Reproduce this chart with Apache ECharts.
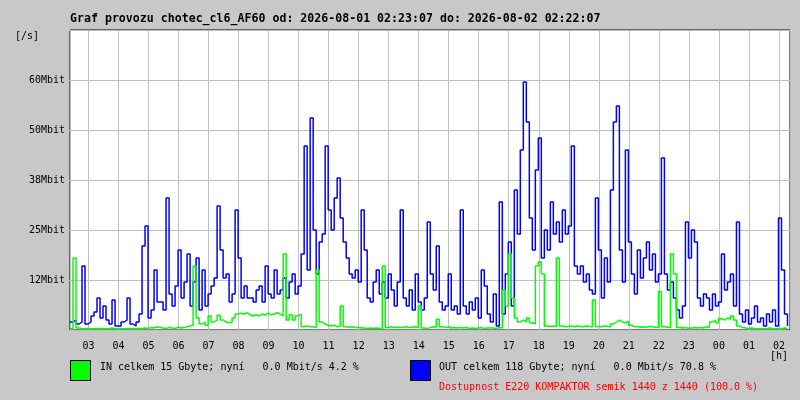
<!DOCTYPE html>
<html>
<head>
<meta charset="utf-8">
<script src="https://cdn.jsdelivr.net/npm/echarts@6/dist/echarts.min.js"></script>
<style>
html, body { margin: 0; padding: 0; background: #c8c8c8; }
#main { width: 800px; height: 400px; }
</style>
</head>
<body>
<div id="main"></div>
<script>
// vzorky po 6 minutach od 02:23:07, hodnoty v Mbit/s
const outMbit = [
  2, 2.5, 1.5, 2, 16, 1.5, 2, 3.5, 4.5, 8,
  3, 6, 2.5, 1.5, 7.5, 1, 1, 2, 2.5, 8,
  1.5, 1, 2, 4, 21, 26, 3, 5, 15, 7,
  7, 5, 33, 9, 6, 11, 20, 8, 12, 19,
  6, 12, 18, 5, 15, 6, 9, 11, 13, 31,
  20, 13, 14, 7, 9, 30, 18, 8, 11, 8,
  8, 7, 10, 11, 7, 16, 9, 8, 15, 9,
  10, 13, 8, 12, 14, 9, 11, 19, 46, 15,
  53, 25, 14, 22, 24, 46, 30, 25, 33, 38,
  28, 22, 18, 14, 13, 15, 12, 30, 20, 8,
  7, 12, 15, 9, 12, 8, 14, 10, 6, 12,
  30, 8, 6, 10, 5, 14, 7, 5, 8, 27,
  14, 10, 21, 7, 5, 6, 14, 5, 6, 4,
  30, 6, 4, 7, 5, 8, 3, 15, 11, 4,
  2, 9, 1, 32, 4, 14, 22, 6, 35, 24,
  45, 62, 52, 28, 20, 40, 48, 18, 25, 20,
  32, 24, 27, 22, 30, 24, 26, 46, 16, 14,
  16, 12, 14, 10, 9, 33, 20, 8, 18, 12,
  35, 52, 56, 20, 12, 45, 22, 14, 9, 20,
  13, 18, 22, 15, 19, 12, 14, 43, 14, 10,
  12, 8, 5, 3, 6, 27, 18, 25, 22, 8,
  6, 9, 8, 5, 9, 6, 7, 19, 10, 12,
  14, 6, 27, 4, 2, 5, 1.5, 3, 6, 2,
  3, 1, 4, 2, 5, 1, 28, 15, 4, 1
];
const inMbit = [
  0.3, 18, 0.5, 0.3, 0.3, 0.4, 0.3, 0.3, 0.4, 0.3,
  0.4, 0.3, 0.3, 0.5, 0.3, 0.3, 0.4, 0.3, 0.3, 0.4,
  0.3, 0.3, 0.4, 0.3, 0.5, 0.4, 0.6, 0.5, 0.8, 0.6,
  0.5, 0.4, 0.6, 0.5, 0.4, 0.7, 0.5, 0.6, 0.8, 1.0,
  1.2, 16, 3, 1.5, 2, 1.2, 3.5, 2, 2.5, 3.7,
  2.5, 2, 1.8, 2, 3, 4, 4.2, 4, 4.3, 3.8,
  3.5, 3.8, 3.5, 4, 3.7, 4.2, 3.8, 4, 4.3, 4,
  3.5, 19, 2.5, 3.8, 2.5, 3.5, 4, 0.8, 1, 0.8,
  0.8, 0.6, 15, 2, 1.5, 1.2, 1, 1.2, 0.8, 1,
  6, 0.8, 0.7, 0.8, 0.6, 0.7, 0.5, 0.5, 0.4, 0.5,
  0.4, 0.5, 0.4, 0.4, 16, 0.6, 0.8, 0.6, 0.7, 0.6,
  0.7, 0.8, 0.6, 0.7, 0.8, 0.6, 6, 0.5, 0.4, 0.6,
  0.8, 0.7, 2.7, 0.8, 0.6, 0.8, 0.5, 0.6, 0.5, 0.6,
  0.5, 0.6, 0.4, 0.5, 0.4, 0.5, 0.6, 0.4, 0.5, 0.5,
  0.5, 0.4, 0.6, 0.5, 10, 6, 19, 8, 3, 2,
  2.5, 2, 3, 1.8, 1.5, 16, 17, 14, 1, 0.9,
  1, 0.9, 18, 1, 0.8, 0.9, 1, 0.8, 1, 0.9,
  0.8, 1, 0.9, 0.8, 7.5, 0.9, 0.8, 1, 0.9, 0.8,
  1.5, 2, 2.5, 2, 1.8, 2.2, 1.2, 0.8, 0.9, 0.7,
  0.8, 0.7, 0.9, 0.8, 0.7, 0.6, 9.6, 0.8, 0.7, 0.6,
  19, 14, 0.6, 0.5, 0.6, 0.4, 0.5, 0.6, 0.5, 0.6,
  0.5, 0.8, 0.6, 2, 2.5, 1.8, 2.8, 2.5, 3, 2.7,
  3.5, 2.5, 1, 0.6, 0.5, 0.4, 0.5, 0.4, 0.3, 0.4,
  0.4, 0.3, 0.5, 0.4, 0.3, 0.4, 0.3, 0.5, 0.4, 0.3
];
const yTickValues = [12.5, 25, 37.5, 50, 62.5];
const yTickLabels = ['12Mbit', '25Mbit', '38Mbit', '50Mbit', '60Mbit'];

const titleText = 'Graf provozu chotec_cl6_AF60 od: 2026-08-01 02:23:07 do: 2026-08-02 02:22:07';
const inText = 'IN celkem 15 Gbyte; nyní   0.0 Mbit/s 4.2 %';
const outText = 'OUT celkem 118 Gbyte; nyní   0.0 Mbit/s 70.8 %';
const availText = 'Dostupnost E220 KOMPAKTOR semik 1440 z 1440 (100.0 %)';

const startTime = new Date(2026, 7, 1, 2, 23, 7).getTime();
const endTime = new Date(2026, 7, 2, 2, 22, 7).getTime();
const stepMs = 6 * 60 * 1000;

const font = 'DejaVu Sans Mono';

function toPairs(arr) {
  let res = [];
  for (let i = 0; i < arr.length; i++) {
    res.push([startTime + i * stepMs, arr[i]]);
  }
  return res;
}

function txt(text, left, top, size, color, bold) {
  return {
    text: text,
    left: left,
    top: top,
    padding: 0,
    textStyle: {
      fontFamily: font,
      fontSize: size,
      fontWeight: bold ? 'bold' : 'normal',
      color: color
    }
  };
}

const chart = echarts.init(document.getElementById('main'));

const option = {
  backgroundColor: '#c8c8c8',
  animation: false,
  title: [
    txt(titleText, 70, 13, 11.6, '#000', true),
    txt('[/s]', 15, 31, 10, '#000', false),
    txt('[h]', 770, 351, 10, '#000', false),
    txt(inText, 100, 362, 10, '#000', false),
    txt(outText, 439, 362, 10, '#000', false),
    txt(availText, 439, 382, 10, '#ff0000', false)
  ],
  graphic: [
    { type: 'rect', shape: { x: 70.5, y: 360.5, width: 20, height: 20 },
      style: { fill: '#00ff00', stroke: '#000', lineWidth: 1 } },
    { type: 'rect', shape: { x: 410.5, y: 360.5, width: 20, height: 20 },
      style: { fill: '#0000ff', stroke: '#000', lineWidth: 1 } }
  ],
  grid: {
    left: 70,
    top: 30,
    width: 720,
    height: 300,
    show: true,
    backgroundColor: '#fff',
    borderColor: '#000',
    borderWidth: 1
  },
  xAxis: {
    type: 'time',
    min: startTime,
    max: endTime,
    minInterval: 3600 * 1000,
    maxInterval: 3600 * 1000,
    axisLine: { show: false },
    axisTick: { show: false },
    splitLine: { show: true, lineStyle: { color: '#c0c0c0', width: 1 } },
    axisLabel: {
      showMinLabel: false,
      showMaxLabel: false,
      margin: 11,
      fontFamily: font,
      fontSize: 10,
      color: '#000',
      formatter: function (v) {
        const h = new Date(v).getHours();
        return (h < 10 ? '0' : '') + h;
      }
    }
  },
  yAxis: {
    type: 'value',
    min: 0,
    max: 75,
    interval: 12.5,
    axisLine: { show: false },
    axisTick: { show: true, length: 4, lineStyle: { color: '#c0c0c0' } },
    splitLine: { show: true, lineStyle: { color: '#c0c0c0', width: 1 } },
    axisLabel: {
      margin: 5,
      fontFamily: font,
      fontSize: 10,
      color: '#000',
      formatter: function (v) {
        const idx = yTickValues.indexOf(v);
        return idx >= 0 ? yTickLabels[idx] : '';
      }
    }
  },
  series: [
    {
      name: 'OUT',
      type: 'line',
      step: 'end',
      symbol: 'none',
      lineStyle: { color: '#0000ff', width: 1.5 },
      data: toPairs(outMbit)
    },
    {
      name: 'IN',
      type: 'line',
      step: 'end',
      symbol: 'none',
      lineStyle: { color: '#00ff00', width: 1.5 },
      data: toPairs(inMbit)
    }
  ]
};

chart.setOption(option);
</script>
</body>
</html>
